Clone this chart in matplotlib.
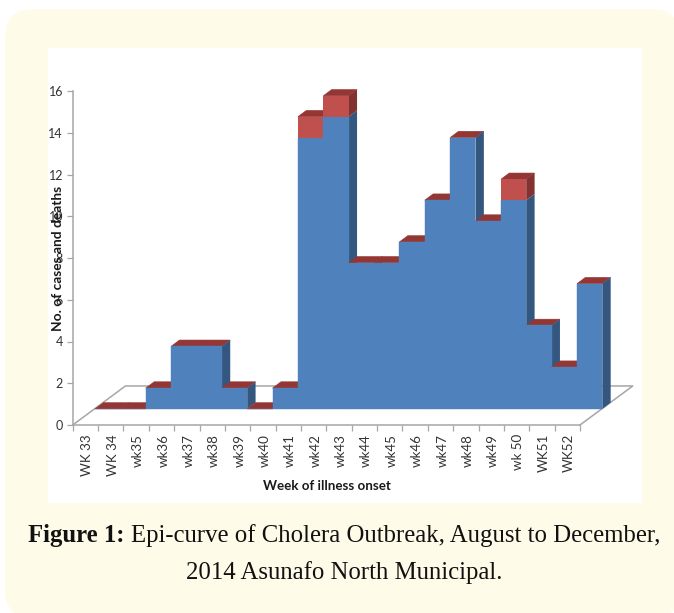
import matplotlib
matplotlib.use('Agg')
import matplotlib.pyplot as plt
from matplotlib.patches import FancyBboxPatch, Rectangle

weeks = ['WK 33', 'WK 34', 'wk35', 'wk36', 'wk37', 'wk38', 'wk39', 'wk40', 'wk41', 'wk42',
         'wk43', 'wk44', 'wk45', 'wk46', 'wk47', 'wk48', 'wk49', 'wk 50', 'WK51', 'WK52']
cases = [0, 0, 1, 3, 3, 1, 0, 1, 13, 14, 7, 7, 8, 10, 13, 9, 10, 4, 2, 6]
deaths = [0, 0, 0, 0, 0, 0, 0, 0, 1, 1, 0, 0, 0, 0, 0, 0, 1, 0, 0, 0]

W, H = 674, 613
# fake 3d offsets, in data units
front_dx, front_dy = 0.88, 0.77
floor_dx, floor_dy = 2.08, 1.87
depth_dx, depth_dy = 0.33, 0.30

plt.rcParams['font.family'] = ['Lato', 'DejaVu Sans']

fig = plt.figure(figsize=(W / 100, H / 100), dpi=100, facecolor='white')

# page background and white chart area
bg = fig.add_axes([0, 0, 1, 1])
bg.set_xlim(0, W)
bg.set_ylim(H, 0)
bg.axis('off')
bg.add_patch(FancyBboxPatch((5, 9), 675, 609, boxstyle='round,pad=0,rounding_size=28',
                            facecolor='#FFFBE9', edgecolor='none'))
bg.add_patch(Rectangle((48, 48), 594, 455, facecolor='white', edgecolor='none'))

bg.text(28, 542, 'Figure 1:', family='Liberation Serif', fontsize=17.8,
        fontweight='bold', ha='left', va='baseline', color='#111111')
bg.text(131, 542, 'Epi-curve of Cholera Outbreak, August to December,', family='Liberation Serif',
        fontsize=17.8, ha='left', va='baseline', color='#111111')
bg.text(344, 579, '2014 Asunafo North Municipal.', family='Liberation Serif', fontsize=17.8,
        ha='center', va='baseline', color='#111111')

# chart axes, 0 to 16 over 91..425 px
left, right, top, bottom = 72.7, 580, 91, 425
ax = fig.add_axes([left / W, 1 - bottom / H, (right - left) / W, (bottom - top) / H])
ax.patch.set_alpha(0)
ax.set_xlim(0, len(weeks))
ax.set_ylim(0, 16)

grey = '#A6A6A6'
n = len(weeks)
# floor outline
ax.plot([0, floor_dx, n + floor_dx, n], [0, floor_dy, floor_dy, 0], color=grey, lw=1.1,
        clip_on=False, zorder=1)

for i in range(n):
    x0 = i + front_dx
    x1 = x0 + 1
    c = cases[i]
    d = deaths[i]
    h = c + d
    # top of the stack
    ax.fill([x0, x0 + depth_dx, x1 + depth_dx, x1],
            [h + front_dy, h + front_dy + depth_dy, h + front_dy + depth_dy, h + front_dy],
            facecolor='#943634', edgecolor='#943634', lw=0.4, clip_on=False, zorder=2 + i)
    # right side
    ax.fill([x1, x1 + depth_dx, x1 + depth_dx, x1],
            [front_dy, front_dy + depth_dy, c + front_dy + depth_dy, c + front_dy],
            color='#34577F', lw=0, clip_on=False, zorder=2 + i)
    if d > 0:
        ax.fill([x1, x1 + depth_dx, x1 + depth_dx, x1],
                [c + front_dy, c + front_dy + depth_dy, h + front_dy + depth_dy, h + front_dy],
                color='#823230', lw=0, clip_on=False, zorder=2 + i)
    # front faces
    ax.bar(x0, c, width=1, bottom=front_dy, align='edge', facecolor='#4F81BD',
           edgecolor='#4F81BD', lw=0.3, clip_on=False, zorder=2 + i)
    ax.bar(x0, d, width=1, bottom=c + front_dy, align='edge', color='#C0504D', lw=0,
           clip_on=False, zorder=2 + i)

for s in ['top', 'right']:
    ax.spines[s].set_visible(False)
for s in ['left', 'bottom']:
    ax.spines[s].set_color(grey)
    ax.spines[s].set_linewidth(1.1)

ax.set_yticks(range(0, 17, 2))
ax.set_xticks(range(n + 1))
ax.set_xticklabels([])
ax.tick_params(axis='both', color=grey, length=4, width=0.9)
ax.tick_params(axis='y', labelsize=9, labelcolor='#333333', pad=3)

for i, w in enumerate(weeks):
    ax.annotate(w, xy=(i + 0.5, 0), xytext=(1.3, -6.5), textcoords='offset points', rotation=90,
                ha='center', va='top', fontsize=9.6, color='#333333', annotation_clip=False)

bg.text(327, 486, 'Week of illness onset', fontsize=9.6, fontweight='bold', ha='center',
        va='center', color='#1a1a1a')
fig.text(58 / W, 1 - 258 / H, 'No. of cases and deaths', fontsize=9.9, fontweight='bold',
         rotation=90, ha='center', va='center', color='#1a1a1a', zorder=10)

fig.savefig('out.png', dpi=100)
